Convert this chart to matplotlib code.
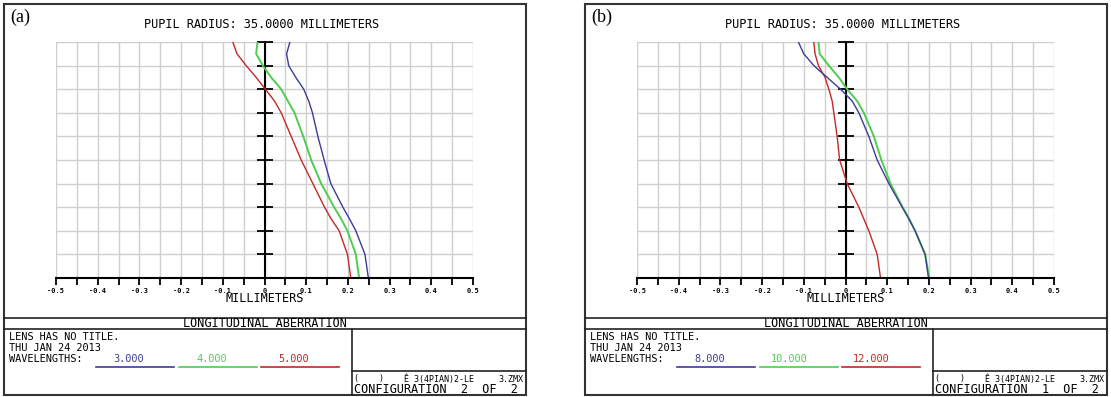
import matplotlib
matplotlib.use('Agg')
import matplotlib.pyplot as plt
from matplotlib.patches import Rectangle
import numpy as np

W, H = 1111, 397

# relative pupil coordinate (0 = axis, 1 = edge of pupil)
pupil = [0.0, 0.1, 0.2, 0.25, 0.3, 0.4, 0.5, 0.6, 0.7, 0.75, 0.8, 0.85, 0.9, 0.95, 1.0]

# (a) wavelengths 3 / 4 / 5 um, focus shift in mm
a_blue = [0.249, 0.241, 0.219, 0.204, 0.188, 0.159, 0.143, 0.128, 0.115, 0.106, 0.094, 0.075, 0.058, 0.053, 0.061]
a_green = [0.227, 0.219, 0.199, 0.184, 0.167, 0.136, 0.112, 0.093, 0.072, 0.056, 0.040, 0.016, -0.004, -0.020, -0.017]
a_red = [0.207, 0.199, 0.179, 0.160, 0.144, 0.116, 0.088, 0.064, 0.040, 0.024, 0.002, -0.020, -0.044, -0.066, -0.076]

# (b) wavelengths 8 / 10 / 12 um
b_blue = [0.199, 0.191, 0.167, 0.152, 0.136, 0.104, 0.076, 0.056, 0.032, 0.016, -0.012, -0.044, -0.076, -0.100, -0.113]
b_green = [0.201, 0.191, 0.167, 0.153, 0.137, 0.108, 0.086, 0.068, 0.044, 0.028, 0.004, -0.016, -0.040, -0.062, -0.065]
b_red = [0.084, 0.076, 0.056, 0.044, 0.032, 0.004, -0.014, -0.020, -0.028, -0.032, -0.040, -0.049, -0.065, -0.073, -0.076]

a_waves = ['3.000', '4.000', '5.000']
b_waves = ['8.000', '10.000', '12.000']

x_ticks = [-0.5, -0.4, -0.3, -0.2, -0.1, 0.0, 0.1, 0.2, 0.3, 0.4, 0.5]
x_tick_labels = ['-0.5', '-0.4', '-0.3', '-0.2', '-0.1', '0', '0.1', '0.2', '0.3', '0.4', '0.5']
y_ticks = [0.1, 0.2, 0.3, 0.4, 0.5, 0.6, 0.7, 0.8, 0.9, 1.0]

BLUE = '#3c3c98'
GREEN = '#50cc50'
RED = '#c42828'
GRID = '#cfcfcf'
MONO = 'DejaVu Sans Mono'
FS = 8.6
FS_INFO = 7.4


def draw_panel(fig, bg, x0, tag, blue, green, red, waves, config):
    ax = fig.add_axes([(x0 + 52) / W, (H - 278) / H, 417 / W, 236 / H])
    ax.set_xlim(-0.5, 0.5)
    ax.set_ylim(0, 1)
    ax.set_xticks(x_ticks)
    ax.set_xticklabels(x_tick_labels, family=MONO, weight='bold', size=5)
    ax.set_xticks(np.arange(-0.45, 0.5, 0.1), minor=True)
    ax.set_yticks(np.arange(0, 1.01, 0.1))
    ax.tick_params(axis='x', which='both', direction='out', length=5, width=1.3, colors='k', pad=2)
    ax.tick_params(axis='y', length=0, labelleft=False)
    ax.grid(True, which='both', color=GRID, lw=1, zorder=0)
    for s in ['top', 'left', 'right']:
        ax.spines[s].set_visible(False)
    ax.spines['bottom'].set_linewidth(1.5)

    # vertical axis at x = 0 with its tick marks
    ax.plot([0, 0], [0, 1], color='k', lw=1.5, clip_on=False)
    ax.plot(np.zeros(len(y_ticks)), y_ticks, ls='none', marker='_', ms=12, mew=1.3,
            color='k', clip_on=False)

    ax.plot(green, pupil, color=GREEN, lw=1.4)
    ax.plot(red, pupil, color=RED, lw=1.0)
    ax.plot(blue, pupil, color=BLUE, lw=1.0)

    # frame and title block
    fr = dict(color='#222222', lw=1.2)
    bg.add_patch(Rectangle((x0, 4), 522, 391, fill=False, ec='#333333', lw=1.5))
    bg.plot([x0, x0 + 522], [318, 318], **fr)
    bg.plot([x0, x0 + 522], [329, 329], **fr)
    bg.plot([x0 + 348, x0 + 348], [329, 395], **fr)
    bg.plot([x0 + 348, x0 + 522], [371, 371], **fr)

    bg.text(x0 + 6, 17, tag, family='Liberation Serif', size=13, va='center')
    bg.text(x0 + 258, 24, 'PUPIL RADIUS: 35.0000 MILLIMETERS', family=MONO, size=FS,
            ha='center', va='center')
    bg.text(x0 + 261, 299, 'MILLIMETERS', family=MONO, size=FS, ha='center', va='center')
    bg.text(x0 + 261, 323.5, 'LONGITUDINAL ABERRATION', family=MONO, size=FS,
            ha='center', va='center')

    info = dict(family=MONO, size=FS_INFO, va='center')
    bg.text(x0 + 5, 337.5, 'LENS HAS NO TITLE.', **info)
    bg.text(x0 + 5, 348, 'THU JAN 24 2013', **info)
    bg.text(x0 + 5, 358.5, 'WAVELENGTHS:', **info)
    ends = [140, 223, 305]
    spans = [(92, 170), (175, 253), (257, 335)]
    for w, c, e, (s0, s1) in zip(waves, [BLUE, GREEN, RED], ends, spans):
        bg.text(x0 + e, 358.5, w, color=c, ha='right', **info)
        bg.plot([x0 + s0, x0 + s1], [367, 367], color=c, lw=1.2)

    bg.text(x0 + 350, 379, '(    )', family=MONO, size=6, va='center')
    bg.text(x0 + 400, 379, 'Ê 3(4PIAN)2-LE', family=MONO, size=6, va='center')
    bg.text(x0 + 519, 379, '3.ZMX', family=MONO, size=6, ha='right', va='center')
    bg.text(x0 + 350, 389.5, config, family=MONO, size=8.6, va='center')
    return ax


fig = plt.figure(figsize=(W / 100, H / 100), dpi=100)
bg = fig.add_axes([0, 0, 1, 1])
bg.set_xlim(0, W)
bg.set_ylim(H, 0)
bg.axis('off')

draw_panel(fig, bg, 4, '(a)', a_blue, a_green, a_red, a_waves, 'CONFIGURATION  2  OF  2')
draw_panel(fig, bg, 585, '(b)', b_blue, b_green, b_red, b_waves, 'CONFIGURATION  1  OF  2')

fig.savefig('out.png', dpi=100)
